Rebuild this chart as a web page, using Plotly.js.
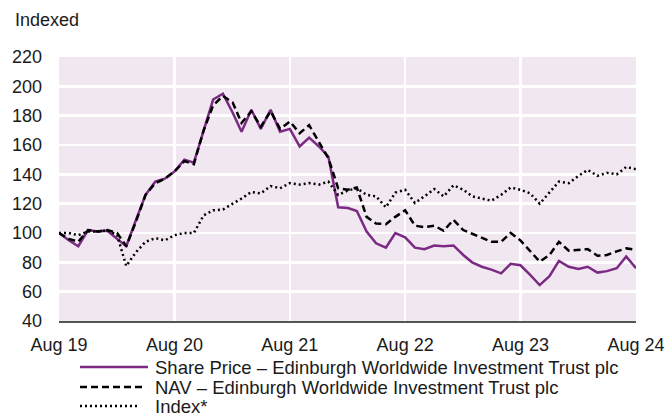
<!DOCTYPE html>
<html>
<head>
<meta charset="utf-8">
<script src="https://cdn.plot.ly/plotly-3.0.1.min.js"></script>
<style>html,body{margin:0;padding:0;background:#fff;}#chart{width:667px;height:418px;}</style>
</head>
<body>
<div id="chart"></div>
<script>
// Monthly observations, Aug 2019 .. Aug 2024 (61 months)
const startYear = 2019, startMonth = 8;
const sharePrice = [100, 95, 91, 102, 101, 101.5, 96, 91, 109, 126, 135, 137, 142,
  150, 148, 170, 191, 195, 182, 169, 184, 171, 184, 169, 171,
  159, 165, 159, 152, 117.5, 117, 115, 101, 93, 90, 100, 97,
  90, 89, 91.5, 91, 91.5, 85, 80, 77, 75, 72.5, 79, 78,
  71.5, 64.5, 70.5, 81, 77, 75.5, 77, 73, 74, 76, 84, 76];
const nav = [100, 96, 94, 102, 101, 102, 100, 91, 108, 126, 134, 137, 142,
  149, 147, 170, 187, 193.5, 189, 175, 183, 172.5, 183, 171, 176,
  168, 173.5, 162, 151, 130.5, 129.5, 131, 111, 106.5, 106, 111, 115.5,
  105, 104, 105, 101.5, 109, 102, 99.5, 96.5, 94, 94, 100, 95,
  87.5, 80.5, 85, 94, 88, 88.5, 89, 84.5, 85, 87.5, 89.5, 88.5];
const indexSeries = [100, 100, 98.5, 101, 101, 102, 98.5, 77.5, 87, 94, 96.5, 95, 98.5,
  100, 100, 112, 115.5, 116, 120, 123.5, 128, 127, 132, 130.5, 134,
  133, 134, 133, 135, 126, 129, 130.5, 126, 125, 117.5, 127.5, 129.5,
  120.5, 125, 130, 125, 132.5, 129.5, 125, 123.5, 122, 126, 131, 129.5,
  127, 120, 128, 135, 134, 139, 143, 139, 141, 140, 145, 143.5];
const seriesNames = ['Share Price \u2013 Edinburgh Worldwide Investment Trust plc',
  'NAV \u2013 Edinburgh Worldwide Investment Trust plc', 'Index*'];
const tickDates = ['2019-08-01','2020-08-01','2021-08-01','2022-08-01','2023-08-01','2024-08-01'];
const tickLabels = ['Aug 19','Aug 20','Aug 21','Aug 22','Aug 23','Aug 24'];
const yTicks = [40, 60, 80, 100, 120, 140, 160, 180, 200, 220];

const dates = sharePrice.map((_, i) => {
  const m = startMonth - 1 + i;
  const y = startYear + Math.floor(m / 12);
  const mm = (m % 12) + 1;
  return y + '-' + String(mm).padStart(2, '0') + '-01';
});

const FONT = 'Liberation Sans, Arial, Helvetica, sans-serif';
const TXT = '#1a1a1a';
const styles = [
  {color: '#7B2A84', width: 2.5, dash: 'solid'},
  {color: '#000000', width: 2.5, dash: '7px,4px'},
  {color: '#000000', width: 2.5, dash: '2px,3px'}
];
const series = [sharePrice, nav, indexSeries];
const traces = series.map((s, i) => ({
  x: dates, y: s, name: seriesNames[i], type: 'scatter', mode: 'lines',
  line: styles[i], showlegend: false
}));

// Custom legend (styling only): plot area is 577px wide, 264px tall
const PW = 577, PH = 264, PL = 59, PB = 321;
const px2x = p => (p - PL) / PW;
const py2y = p => (PB - p) / PH;
const legRows = [367, 387, 406];
const legEnds = [148, 145, 137];
const shapes = legRows.map((yy, i) => ({
  type: 'line', xref: 'paper', yref: 'paper',
  x0: px2x(80), x1: px2x(legEnds[i]), y0: py2y(yy), y1: py2y(yy),
  line: {color: styles[i].color, width: styles[i].width, dash: styles[i].dash}
}));
const annotations = legRows.map((yy, i) => ({
  text: seriesNames[i], xref: 'paper', yref: 'paper', x: px2x(153), y: py2y(yy),
  xanchor: 'left', yanchor: 'middle', showarrow: false,
  font: {family: FONT, size: 18.5, color: TXT}
}));
annotations.push({text: 'Indexed', xref: 'paper', yref: 'paper', x: px2x(13), y: py2y(20),
  xanchor: 'left', yanchor: 'middle', showarrow: false,
  font: {family: FONT, size: 18, color: TXT}});

const layout = {
  width: 667, height: 418,
  margin: {l: PL, r: 667 - PL - PW, t: 57, b: 418 - PB},
  paper_bgcolor: '#ffffff',
  plot_bgcolor: '#F1E7F1',
  font: {family: FONT, size: 18, color: TXT},
  showlegend: false,
  xaxis: {type: 'date', range: [tickDates[0], tickDates[tickDates.length - 1]],
    tickvals: tickDates, ticktext: tickLabels, showgrid: true, gridcolor: '#ffffff', gridwidth: 2.5,
    showline: true, linecolor: '#555555', linewidth: 2, ticks: '', zeroline: false,
    ticklabelstandoff: 6, tickfont: {family: FONT, size: 18, color: TXT}},
  yaxis: {range: [40, 220], tickvals: yTicks, showgrid: true, gridcolor: '#ffffff', gridwidth: 2.5,
    showline: false, ticks: '', zeroline: false, ticklabelstandoff: 16,
    tickfont: {family: FONT, size: 18, color: TXT}},
  shapes: shapes,
  annotations: annotations
};

Plotly.newPlot('chart', traces, layout, {displayModeBar: false, staticPlot: true});
</script>
</body>
</html>
